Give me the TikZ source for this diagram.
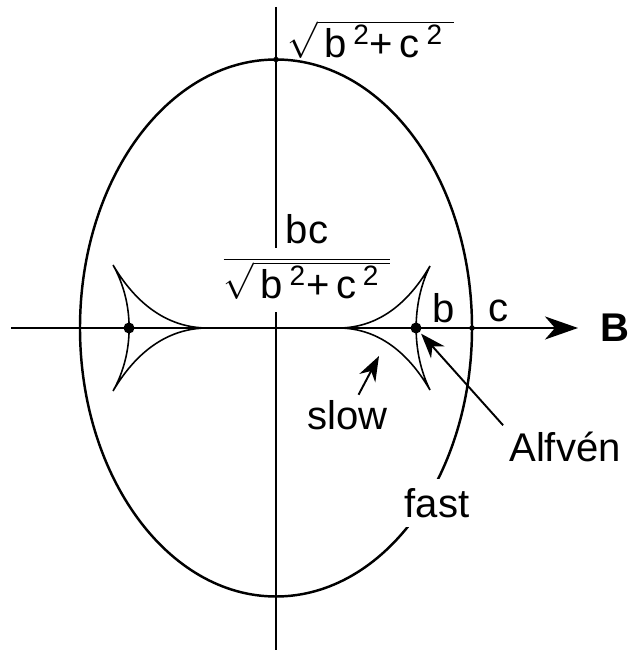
\documentclass[tikz,border=0pt]{standalone}
\usepackage{fontspec}
\setmainfont{Liberation Sans}
\usetikzlibrary{arrows.meta}

\newcommand{\bcroot}{\sqrt{\mbox{\,b\,\textsuperscript{2}+\,c\,\textsuperscript{2}\;}}}

\begin{document}
\begin{tikzpicture}[>={Stealth[length=5mm,width=3.6mm,inset=1.6mm]},
  font=\fontsize{22.8}{27}\selectfont]
\useasboundingbox (-5.52,-6.44) rectangle (7.06,6.56);

\coordinate (l) at (-5.29,0);
\coordinate (r) at (6.04,0);
\coordinate (t) at (0,6.42);
\coordinate (d) at (0,-6.44);
\coordinate (sp) at (2.06,-0.56);

\draw[line width=1.4pt] (0,0) ellipse (3.92 and 5.37);
\draw[line width=1.6pt] (t) -- (d);
\draw[line width=1.6pt,-{Stealth[length=6.6mm,width=4.6mm,inset=2mm]}] (l) -- (r);

\node[anchor=base west,inner sep=0pt] (top) at (0.22,5.41) {$\bcroot$};
\node[anchor=base,fill=white,inner xsep=1mm,inner ysep=0pt,text height=4mm,text depth=8.8mm] (ratio) at (0.62,1.20) {$\displaystyle\frac{\mbox{bc}}{\bcroot}$};
\node[fill=white,inner sep=1.8mm] (fast) at (3.22,-3.5) {fast};

% slow cusps
\draw[line width=0.9pt] (1.28,0) .. controls (2.3,0.02) and (2.85,0.85) .. (3.08,1.24)
  .. controls (2.71,0.5) and (2.71,-0.5) .. (3.08,-1.24)
  .. controls (2.85,-0.85) and (2.3,-0.02) .. (1.28,0);
\draw[line width=0.9pt] (-1.40,0) .. controls (-2.45,0.02) and (-3.02,0.86) .. (-3.26,1.26)
  .. controls (-2.83,0.5) and (-2.83,-0.5) .. (-3.26,-1.26)
  .. controls (-3.02,-0.86) and (-2.45,-0.02) .. (-1.40,0);

\node[circle,fill,inner sep=0pt,minimum size=2.2mm] (alfR) at (2.80,0) {};
\node[circle,fill,inner sep=0pt,minimum size=2.2mm] (alfL) at (-2.94,0) {};
\node[circle,fill,inner sep=0pt,minimum size=1.1mm] (ftop) at (0,5.37) {};
\node[circle,fill,inner sep=0pt,minimum size=1.1mm] (fc) at (3.92,0) {};

\node[anchor=base] (b) at (3.36,0.10) {b};
\node[anchor=base] (c) at (4.46,0.12) {c};
\node[font=\fontsize{22.8}{27}\selectfont\bfseries] (B) at (6.78,0) {B};
\node[anchor=base] (slow) at (1.43,-2.04) {slow};
\node[anchor=base] (alfven) at (5.78,-2.66) {Alfvén};

\draw[->,line width=1.1pt] (slow) -- (sp);
\draw[->,line width=1.1pt,shorten >=1pt] (alfven.north west) -- (alfR);
\end{tikzpicture}
\end{document}
